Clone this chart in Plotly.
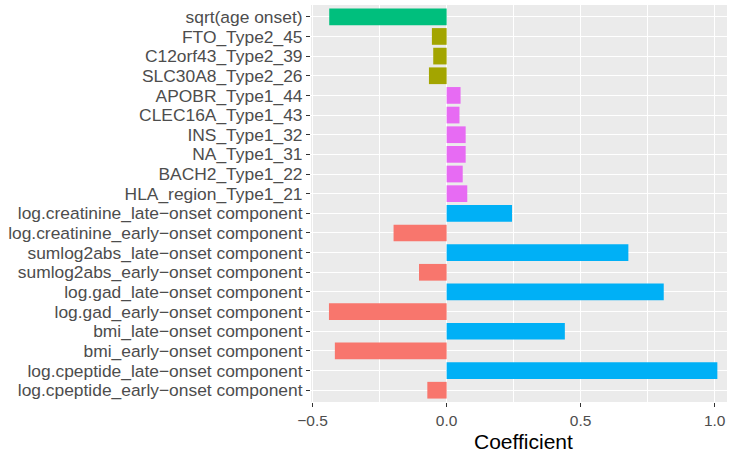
import plotly.graph_objects as go

categories = [
    "log.cpeptide_early\u2212onset component",
    "log.cpeptide_late\u2212onset component",
    "bmi_early\u2212onset component",
    "bmi_late\u2212onset component",
    "log.gad_early\u2212onset component",
    "log.gad_late\u2212onset component",
    "sumlog2abs_early\u2212onset component",
    "sumlog2abs_late\u2212onset component",
    "log.creatinine_early\u2212onset component",
    "log.creatinine_late\u2212onset component",
    "HLA_region_Type1_21",
    "BACH2_Type1_22",
    "NA_Type1_31",
    "INS_Type1_32",
    "CLEC16A_Type1_43",
    "APOBR_Type1_44",
    "SLC30A8_Type2_26",
    "C12orf43_Type2_39",
    "FTO_Type2_45",
    "sqrt(age onset)",
]
values = [-0.072, 1.010, -0.417, 0.441, -0.439, 0.810, -0.103, 0.678, -0.198, 0.244,
          0.077, 0.060, 0.071, 0.071, 0.048, 0.052, -0.066, -0.050, -0.055, -0.438]
groups = ["early", "late", "early", "late", "early", "late", "early", "late", "early", "late",
          "t1", "t1", "t1", "t1", "t1", "t1", "t2", "t2", "t2", "age"]
group_colors = {"early": "#F8766D", "t2": "#A3A500", "age": "#00BF7D",
                "late": "#00B0F6", "t1": "#E76BF3"}
x_ticks = [-0.5, 0.0, 0.5, 1.0]
x_ticklabels = ["\u22120.5", "0.0", "0.5", "1.0"]
x_title = "Coefficient"

fig = go.Figure(go.Bar(
    x=values, y=categories, orientation="h",
    marker=dict(color=[group_colors[g] for g in groups], line=dict(width=0)),
    width=0.85,
))

font = "Liberation Sans, Arial, Helvetica, sans-serif"
fig.update_layout(
    width=729, height=453,
    margin=dict(l=311, r=2, t=5, b=51),
    plot_bgcolor="#EBEBEB", paper_bgcolor="white",
    showlegend=False,
    font=dict(family=font, color="#4D4D4D"),
    xaxis=dict(
        range=[-0.506, 1.046], tickvals=x_ticks, ticktext=x_ticklabels,
        showgrid=True, gridcolor="white", gridwidth=1.1, zeroline=False,
        ticks="outside", ticklen=4, tickcolor="#333333", tickwidth=1,
        tickfont=dict(size=15.5, color="#4D4D4D"),
        minor=dict(dtick=0.25, tick0=0, showgrid=True, gridcolor="white", gridwidth=0.5, ticks=""),
        automargin=False,
    ),
    yaxis=dict(
        categoryorder="array", categoryarray=categories, range=[-0.6, 19.6],
        tickmode="array", tickvals=categories, ticktext=categories,
        showgrid=True, gridcolor="white", gridwidth=1.1, zeroline=False,
        ticks="outside", ticklen=4, tickcolor="#333333", tickwidth=1,
        tickfont=dict(size=17.4, color="#4D4D4D"),
        automargin=False,
    ),
    bargap=0.15,
    annotations=[dict(
        text=x_title, xref="paper", yref="paper", x=0.51, y=-0.1,
        xanchor="center", yanchor="middle", showarrow=False, borderpad=0,
        font=dict(size=21, color="black", family=font),
    )],
)

fig.write_html("out.html")
